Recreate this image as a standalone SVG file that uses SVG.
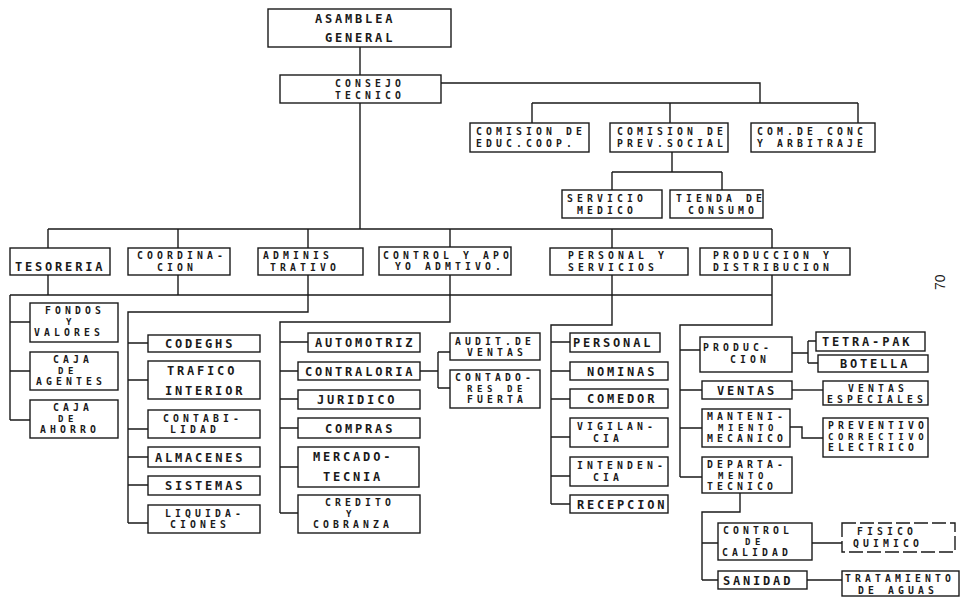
<svg xmlns="http://www.w3.org/2000/svg" width="962" height="599" viewBox="0 0 962 599">
<style>
.bx{fill:none;stroke:#1a1a1a;stroke-width:1.4}
.dbx{fill:none;stroke:#1a1a1a;stroke-width:1.4;stroke-dasharray:14 4}
.cn{fill:none;stroke:#1a1a1a;stroke-width:1.4}
text{font-family:"DejaVu Sans Mono","Liberation Mono",monospace;font-weight:bold;fill:#1a1a1a}
.a{font-size:12px;letter-spacing:2.8px}
.b{font-size:9.8px;letter-spacing:4.1px}
.c{font-size:9px;letter-spacing:4.6px}
.pg{font-family:"Liberation Sans",Arial,sans-serif;font-weight:normal;font-size:14px}
</style>
<rect width="962" height="599" fill="#fff"/>
<g id="connectors">
<path class="cn" d="M360,47V75"/>
<path class="cn" d="M441,83H760V103"/>
<path class="cn" d="M532,103H858M532,103V123M670,103V123M858,103V123"/>
<path class="cn" d="M672,152V172M612,172H722M612,172V190M722,172V190"/>
<path class="cn" d="M360,103V229M48,229H772M48,229V248M178,229V248M308,229V248M450,229V247M612,229V248M772,229V248"/>
<path class="cn" d="M10,295H772M48,275V295M178,275V295"/>
<path class="cn" d="M10,295V420M10,322H30M10,371H30M10,420H30"/>
<path class="cn" d="M308,275V312H128V523M128,343H148M128,380H148M128,429H148M128,457H148M128,485H148M128,523H148"/>
<path class="cn" d="M450,275V322H280V513M280,342H308M280,371H298M280,399H298M280,428H298M280,467H298M280,513H298"/>
<path class="cn" d="M420,371H438M438,352V388M438,352H450M438,388H450"/>
<path class="cn" d="M612,275V325H551V504M551,342H570M551,371H570M551,399H570M551,437H570M551,476H570M551,504H570"/>
<path class="cn" d="M772,275V325H680V477M680,350H700M680,390H702M680,428H702M680,477H702"/>
<path class="cn" d="M792,353H808M808,341V363M808,341H816M808,363H818"/>
<path class="cn" d="M792,390H823"/>
<path class="cn" d="M790,427H802V438H823"/>
<path class="cn" d="M740,493V512H702V580M702,543H718M702,580H718"/>
<path class="cn" d="M812,543H842M807,580H842"/>
</g>
<g id="n-asamblea"><rect class="bx" x="268" y="9" width="183" height="38"/><text class="a" x="315" y="23">ASAMBLEA</text><text class="a" x="325" y="42">GENERAL</text></g>
<g id="n-consejo"><rect class="bx" x="280" y="75" width="161" height="28"/><text class="b" x="335" y="87">CONSEJO</text><text class="b" x="335" y="98.5">TECNICO</text></g>
<g id="n-com-educ"><rect class="bx" x="470" y="123" width="119" height="29"/><text class="b" x="476" y="135">COMISION DE</text><text class="b" x="476" y="147">EDUC.COOP.</text></g>
<g id="n-com-prev"><rect class="bx" x="610" y="123" width="118" height="29"/><text class="b" x="617" y="135">COMISION DE</text><text class="b" x="617" y="147">PREV.SOCIAL</text></g>
<g id="n-com-conc"><rect class="bx" x="751" y="123" width="124" height="29"/><text class="b" x="757" y="135">COM.DE CONC</text><text class="b" x="757" y="147">Y ARBITRAJE</text></g>
<g id="n-servicio"><rect class="bx" x="562" y="190" width="100" height="28"/><text class="b" x="567" y="202">SERVICIO</text><text class="b" x="577" y="213.5">MEDICO</text></g>
<g id="n-tienda"><rect class="bx" x="670" y="190" width="93" height="28"/><text class="b" x="676" y="202">TIENDA DE</text><text class="b" x="688" y="213.5">CONSUMO</text></g>
<g id="n-tesoreria"><rect class="bx" x="10" y="248" width="100" height="27"/><text class="a" x="15" y="271">TESORERIA</text></g>
<g id="n-coordinacion"><rect class="bx" x="128" y="248" width="102" height="27"/><text class="b" x="137" y="259">COORDINA-</text><text class="b" x="157" y="270.5">CION</text></g>
<g id="n-administrativo"><rect class="bx" x="258" y="248" width="105" height="27"/><text class="b" x="263" y="259">ADMINIS</text><text class="b" x="270" y="270.5">TRATIVO</text></g>
<g id="n-control"><rect class="bx" x="379" y="247" width="132" height="28"/><text class="b" x="383" y="258.5">CONTROL Y APO</text><text class="b" x="395" y="270">YO ADMTIVO.</text></g>
<g id="n-personal-serv"><rect class="bx" x="550" y="248" width="138" height="27"/><text class="b" x="568" y="259">PERSONAL Y</text><text class="b" x="568" y="270.5">SERVICIOS</text></g>
<g id="n-produccion"><rect class="bx" x="700" y="248" width="150" height="27"/><text class="b" x="713" y="259">PRODUCCION Y</text><text class="b" x="713" y="270.5">DISTRIBUCION</text></g>
<g id="n-fondos"><rect class="bx" x="30" y="303" width="88" height="39"/><text class="b" x="45" y="314">FONDOS</text><text class="c" x="66" y="325">Y</text><text class="b" x="34" y="336">VALORES</text></g>
<g id="n-agentes"><rect class="bx" x="30" y="352" width="88" height="38"/><text class="b" x="53" y="363">CAJA</text><text class="c" x="58" y="374">DE</text><text class="b" x="36" y="385">AGENTES</text></g>
<g id="n-ahorro"><rect class="bx" x="30" y="400" width="88" height="38"/><text class="b" x="53" y="411">CAJA</text><text class="c" x="58" y="422">DE</text><text class="b" x="40" y="433">AHORRO</text></g>
<g id="n-codeghs"><rect class="bx" x="148" y="335" width="112" height="17"/><text class="a" x="165" y="348">CODEGHS</text></g>
<g id="n-trafico"><rect class="bx" x="148" y="361" width="112" height="38"/><text class="a" x="167" y="375">TRAFICO</text><text class="a" x="165" y="395">INTERIOR</text></g>
<g id="n-contabilidad"><rect class="bx" x="148" y="410" width="112" height="28"/><text class="b" x="163" y="421.5">CONTABI-</text><text class="b" x="170" y="433">LIDAD</text></g>
<g id="n-almacenes"><rect class="bx" x="148" y="447" width="112" height="20"/><text class="a" x="155" y="461.5">ALMACENES</text></g>
<g id="n-sistemas"><rect class="bx" x="148" y="476" width="112" height="19"/><text class="a" x="165" y="490">SISTEMAS</text></g>
<g id="n-liquidaciones"><rect class="bx" x="148" y="505" width="112" height="28"/><text class="b" x="165" y="516.5">LIQUIDA-</text><text class="b" x="170" y="528">CIONES</text></g>
<g id="n-automotriz"><rect class="bx" x="308" y="333" width="112" height="19"/><text class="a" x="315" y="347">AUTOMOTRIZ</text></g>
<g id="n-contraloria"><rect class="bx" x="298" y="362" width="122" height="18"/><text class="a" x="305" y="375.5">CONTRALORIA</text></g>
<g id="n-juridico"><rect class="bx" x="298" y="390" width="122" height="19"/><text class="a" x="317" y="404">JURIDICO</text></g>
<g id="n-compras"><rect class="bx" x="298" y="418" width="122" height="20"/><text class="a" x="325" y="432.5">COMPRAS</text></g>
<g id="n-mercadotecnia"><rect class="bx" x="298" y="447" width="121" height="40"/><text class="a" x="313" y="461">MERCADO-</text><text class="a" x="323" y="481">TECNIA</text></g>
<g id="n-credito"><rect class="bx" x="298" y="495" width="122" height="38"/><text class="b" x="325" y="506">CREDITO</text><text class="c" x="346" y="517">Y</text><text class="b" x="313" y="528">COBRANZA</text></g>
<g id="n-audit"><rect class="bx" x="450" y="333" width="90" height="27"/><text class="b" x="455" y="344.5">AUDIT.DE</text><text class="b" x="467" y="356">VENTAS</text></g>
<g id="n-contadores"><rect class="bx" x="450" y="370" width="90" height="38"/><text class="b" x="455" y="381">CONTADO-</text><text class="c" x="467" y="392">RES DE</text><text class="b" x="467" y="403">FUERTA</text></g>
<g id="n-personal"><rect class="bx" x="570" y="333" width="90" height="19"/><text class="a" x="573" y="347">PERSONAL</text></g>
<g id="n-nominas"><rect class="bx" x="570" y="362" width="98" height="18"/><text class="a" x="587" y="375.5">NOMINAS</text></g>
<g id="n-comedor"><rect class="bx" x="570" y="389" width="98" height="19"/><text class="a" x="587" y="403">COMEDOR</text></g>
<g id="n-vigilancia"><rect class="bx" x="570" y="418" width="98" height="29"/><text class="b" x="577" y="430">VIGILAN-</text><text class="b" x="593" y="442">CIA</text></g>
<g id="n-intendencia"><rect class="bx" x="570" y="457" width="98" height="29"/><text class="b" x="577" y="469">INTENDEN-</text><text class="b" x="593" y="481">CIA</text></g>
<g id="n-recepcion"><rect class="bx" x="570" y="495" width="98" height="18"/><text class="a" x="577" y="508.5">RECEPCION</text></g>
<g id="n-produc"><rect class="bx" x="700" y="337" width="92" height="35"/><text class="b" x="703" y="351">PRODUC-</text><text class="b" x="730" y="363">CION</text></g>
<g id="n-tetrapak"><rect class="bx" x="816" y="332" width="109" height="19"/><text class="a" x="822" y="346">TETRA-PAK</text></g>
<g id="n-botella"><rect class="bx" x="818" y="355" width="110" height="17"/><text class="a" x="840" y="368">BOTELLA</text></g>
<g id="n-ventas"><rect class="bx" x="702" y="381" width="90" height="18"/><text class="a" x="717" y="394.5">VENTAS</text></g>
<g id="n-ventas-esp"><rect class="bx" x="823" y="381" width="105" height="24"/><text class="b" x="848" y="392">VENTAS</text><text class="b" x="827" y="403">ESPECIALES</text></g>
<g id="n-mantenimiento"><rect class="bx" x="702" y="409" width="88" height="38"/><text class="b" x="707" y="420">MANTENI-</text><text class="c" x="718" y="431">MIENTO</text><text class="b" x="707" y="442">MECANICO</text></g>
<g id="n-preventivo"><rect class="bx" x="823" y="418" width="105" height="39"/><text class="b" x="828" y="429">PREVENTIVO</text><text class="c" x="828" y="440">CORRECTIVO</text><text class="b" x="828" y="451">ELECTRICO</text></g>
<g id="n-departamento"><rect class="bx" x="702" y="457" width="90" height="36"/><text class="b" x="707" y="467.5">DEPARTA-</text><text class="c" x="718" y="478.5">MENTO</text><text class="b" x="707" y="490">TECNICO</text></g>
<g id="n-control-calidad"><rect class="bx" x="718" y="523" width="94" height="37"/><text class="b" x="723" y="534">CONTROL</text><text class="c" x="745" y="545">DE</text><text class="b" x="722" y="556">CALIDAD</text></g>
<g id="n-fisico"><rect class="dbx" x="842" y="523" width="113" height="29"/><text class="b" x="857" y="535">FISICO</text><text class="b" x="853" y="547">QUIMICO</text></g>
<g id="n-sanidad"><rect class="bx" x="718" y="571" width="89" height="18"/><text class="a" x="723" y="585">SANIDAD</text></g>
<g id="n-tratamiento"><rect class="bx" x="842" y="571" width="117" height="25"/><text class="b" x="845" y="582">TRATAMIENTO</text><text class="b" x="858" y="593.5">DE AGUAS</text></g>
<text class="pg" transform="translate(945,290) rotate(-90)">70</text>
</svg>
